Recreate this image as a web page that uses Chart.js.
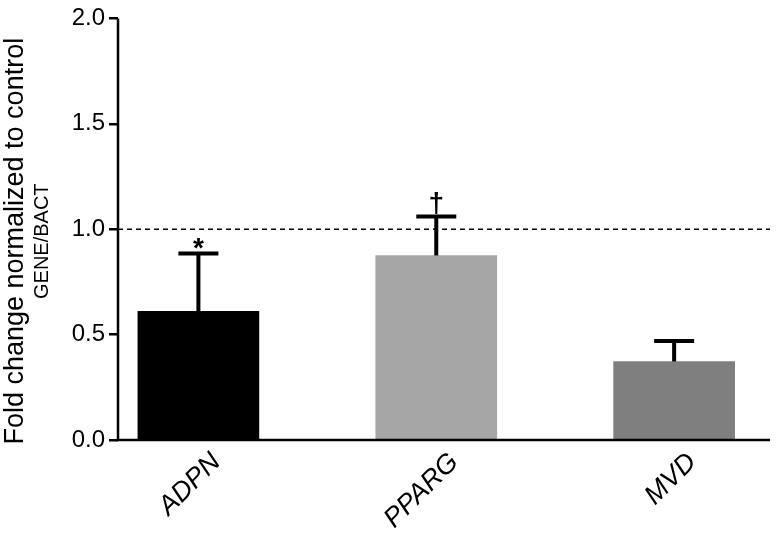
<!DOCTYPE html>
<html><head><meta charset="utf-8">
<script src="https://cdn.jsdelivr.net/npm/chart.js@4/dist/chart.umd.min.js"></script>
<style>html,body{margin:0;background:#fff}#wrap{width:781px;height:553px}</style>
</head><body><div id="wrap"><canvas id="c"></canvas></div>
<script>
// --- DATA ---
const categories = ['ADPN', 'PPARG', 'MVD'];
const values = [0.61, 0.875, 0.372];
const errTops = [0.885, 1.06, 0.47];
const marks = ['*', '†', ''];
const colors = ['#000000', '#a6a6a6', '#7f7f7f'];
const yTicks = [0, 0.5, 1.0, 1.5, 2.0];

// error bars, reference line, labels
const extras = {
    id: 'extras',
    afterDatasetsDraw(chart) {
        const { ctx, scales: { x, y }, chartArea: a } = chart;
        ctx.save();
        ctx.strokeStyle = '#000';
        ctx.fillStyle = '#000';
        // dashed line at 1.0
        ctx.setLineDash([5, 4]);
        ctx.lineWidth = 1.5;
        ctx.beginPath();
        ctx.moveTo(a.left, y.getPixelForValue(1));
        ctx.lineTo(a.right, y.getPixelForValue(1));
        ctx.stroke();
        ctx.setLineDash([]);
        ctx.lineWidth = 4;
        categories.forEach((c, i) => {
            const px = x.getPixelForValue(i);
            const top = y.getPixelForValue(errTops[i]);
            ctx.beginPath();
            ctx.moveTo(px, y.getPixelForValue(values[i]));
            ctx.lineTo(px, top);
            ctx.moveTo(px - 20, top);
            ctx.lineTo(px + 20, top);
            ctx.stroke();
            if (marks[i]) {
                ctx.font = 'bold 28px "Liberation Sans"';
                ctx.textAlign = 'center';
                ctx.textBaseline = 'bottom';
                ctx.fillText(marks[i], px, top + (i === 0 ? 10 : 2));
            }
            // rotated category labels
            ctx.save();
            ctx.translate(px + 18, a.bottom + 18);
            ctx.rotate(-Math.PI / 4);
            ctx.font = 'italic 27px "Liberation Sans"';
            ctx.textAlign = 'right';
            ctx.textBaseline = 'middle';
            ctx.fillText(c, 0, 0);
            ctx.restore();
        });
        // axis lines
        ctx.lineWidth = 2.5;
        ctx.beginPath();
        ctx.moveTo(a.left, a.top);
        ctx.lineTo(a.left, a.bottom);
        ctx.lineTo(a.right, a.bottom);
        ctx.stroke();
        // y title
        ctx.save();
        ctx.translate(16, (a.top + a.bottom) / 2 + 12);
        ctx.rotate(-Math.PI / 2);
        ctx.textAlign = 'center';
        ctx.textBaseline = 'middle';
        ctx.font = '27px "Liberation Sans"';
        ctx.fillText('Fold change normalized to control', 0, 0);
        ctx.font = '20px "Liberation Sans"';
        ctx.fillText('GENE/BACT', 0, 26);
        ctx.restore();
        ctx.restore();
    }
};

new Chart(document.getElementById('c'), {
    type: 'bar',
    data: {
        datasets: [{
            data: values.map((v, i) => ({ x: i, y: v })),
            backgroundColor: colors,
            barThickness: 121
        }]
    },
    options: {
        responsive: true,
        maintainAspectRatio: false,
        animation: false,
        layout: { padding: { top: 18, right: 11, left: 0, bottom: 0 } },
        plugins: { legend: { display: false }, tooltip: { enabled: false } },
        scales: {
            x: {
                type: 'linear', min: -0.338, max: 2.403, offset: false,
                ticks: { display: false },
                grid: { display: false },
                border: { display: false },
                afterFit: s => { s.height = 113; }
            },
            y: {
                min: 0, max: 2,
                afterBuildTicks: s => { s.ticks = yTicks.map(v => ({ value: v })); },
                ticks: {
                    color: '#000', padding: 4,
                    font: { family: 'Liberation Sans', size: 24 },
                    callback: v => v.toFixed(1)
                },
                grid: { drawOnChartArea: false, color: '#000', lineWidth: 2.5, tickLength: 9 },
                border: { display: false },
                afterFit: s => { s.width = 118; }
            }
        }
    },
    plugins: [extras]
});
</script></body></html>
